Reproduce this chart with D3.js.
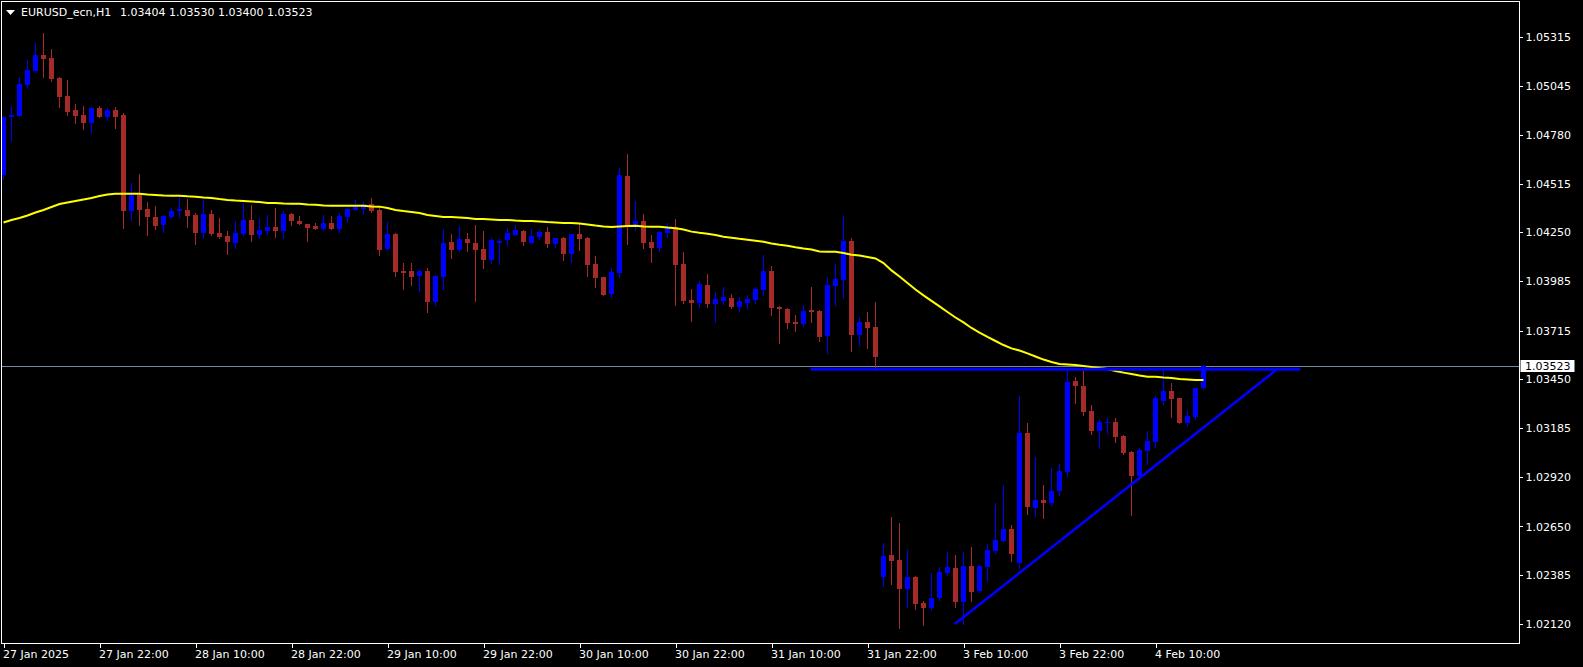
<!DOCTYPE html>
<html>
<head>
<meta charset="utf-8">
<script src="https://cdn.jsdelivr.net/npm/d3@7"></script>
<style>
  html, body { margin: 0; padding: 0; background: #000; }
  svg { display: block; }
  text { font-family: "DejaVu Sans", sans-serif; font-size: 11px; }
</style>
</head>
<body>
<div id="chart"></div>
<script>
const symbolTitle = "EURUSD_ecn,H1";
const titleValues = "1.03404 1.03530 1.03400 1.03523";

const open = [
1.04562,1.04880,1.04885,1.05052,1.05128,1.05213,1.05197,1.05088,1.04992,1.04916,
1.04888,1.04847,1.04927,1.04878,1.04916,1.04888,1.04368,1.04456,1.04377,1.04334,
1.04290,1.04334,1.04364,1.04372,1.04344,1.04247,1.04350,1.04247,1.04230,1.04192,
1.04241,1.04317,1.04236,1.04257,1.04279,1.04257,1.04350,1.04312,1.04295,1.04285,
1.04268,1.04301,1.04268,1.04334,1.04372,1.04377,1.04404,1.04372,1.04160,1.04241,
1.04040,1.04040,1.04014,1.04040,1.03871,1.04007,1.04198,1.04154,1.04214,1.04192,
1.04159,1.04100,1.04192,1.04208,1.04236,1.04257,1.04192,1.04225,1.04252,1.04187,
1.04219,1.04132,1.04241,1.04219,1.04078,1.04007,1.03915,1.04029,1.04557,1.04285,
1.04312,1.04198,1.04165,1.04247,1.04279,1.04078,1.03882,1.03866,1.03964,1.03860,
1.03877,1.03893,1.03844,1.03866,1.03882,1.03936,1.04040,1.03844,1.03833,1.03762,
1.03751,1.03828,1.03822,1.03686,1.03958,1.03991,1.04203,1.03692,1.03762,1.03735,
1.02375,1.02495,1.02468,1.02310,1.02375,1.02234,1.02207,1.02261,1.02397,1.02424,
1.02239,1.02435,1.02299,1.02430,1.02517,1.02571,1.02636,1.02451,1.03159,1.02751,
1.02794,1.02778,1.02843,1.02946,1.03441,1.03414,1.03278,1.03169,1.03216,1.03218,
1.03142,1.03055,1.02925,1.03061,1.03110,1.03333,1.03387,1.03349,1.03213,1.03246,
1.03404];

const high = [
1.04883,1.04937,1.05095,1.05188,1.05282,1.05336,1.05246,1.05097,1.05079,1.04948,
1.04939,1.04932,1.04937,1.04925,1.04934,1.04898,1.04519,1.04567,1.04415,1.04393,
1.04344,1.04382,1.04442,1.04431,1.04355,1.04431,1.04372,1.04328,1.04257,1.04312,
1.04410,1.04399,1.04328,1.04344,1.04382,1.04366,1.04355,1.04339,1.04297,1.04301,
1.04344,1.04339,1.04355,1.04388,1.04426,1.04415,1.04437,1.04382,1.04306,1.04247,
1.04083,1.04083,1.04051,1.04058,1.04018,1.04270,1.04243,1.04285,1.04247,1.04290,
1.04259,1.04219,1.04214,1.04274,1.04290,1.04263,1.04268,1.04263,1.04279,1.04219,
1.04225,1.04241,1.04295,1.04225,1.04121,1.04007,1.04056,1.04600,1.04676,1.04421,
1.04350,1.04236,1.04257,1.04301,1.04323,1.04143,1.03942,1.03985,1.04023,1.03926,
1.03953,1.03915,1.03898,1.03909,1.03953,1.04127,1.04067,1.03849,1.03839,1.03800,
1.03855,1.03953,1.03828,1.04007,1.04078,1.04339,1.04219,1.03790,1.03817,1.03871,
1.02560,1.02702,1.02669,1.02522,1.02380,1.02245,1.02397,1.02430,1.02511,1.02495,
1.02511,1.02538,1.02440,1.02555,1.02778,1.02876,1.02658,1.03360,1.03213,1.03028,
1.02876,1.02968,1.02990,1.03496,1.03463,1.03496,1.03311,1.03229,1.03240,1.03240,
1.03148,1.03058,1.03077,1.03169,1.03360,1.03496,1.03431,1.03349,1.03284,1.03403,
1.03530];

const low = [
1.04540,1.04749,1.04883,1.05041,1.05122,1.05097,1.05073,1.04934,1.04888,1.04847,
1.04814,1.04789,1.04876,1.04860,1.04819,1.04276,1.04317,1.04290,1.04236,1.04268,
1.04252,1.04328,1.04336,1.04279,1.04187,1.04219,1.04236,1.04222,1.04132,1.04165,
1.04236,1.04203,1.04219,1.04241,1.04225,1.04219,1.04290,1.04293,1.04203,1.04266,
1.04263,1.04266,1.04252,1.04306,1.04370,1.04350,1.04361,1.04127,1.04154,1.04014,
1.03944,1.03965,1.03933,1.03818,1.03855,1.03940,1.04111,1.04150,1.04149,1.03877,
1.04056,1.04083,1.04078,1.04181,1.04236,1.04181,1.04192,1.04214,1.04170,1.04170,
1.04100,1.04089,1.04154,1.04013,1.03953,1.03909,1.03898,1.04007,1.04187,1.04263,
1.04165,1.04089,1.04149,1.04225,1.03855,1.03866,1.03768,1.03844,1.03844,1.03762,
1.03860,1.03840,1.03822,1.03839,1.03866,1.03909,1.03800,1.03648,1.03730,1.03713,
1.03741,1.03762,1.03659,1.03594,1.03855,1.03893,1.03605,1.03637,1.03621,1.03501,
1.02326,1.02337,1.02098,1.02212,1.02201,1.02114,1.02196,1.02250,1.02386,1.02212,
1.02119,1.02245,1.02294,1.02353,1.02506,1.02571,1.02462,1.02424,1.02718,1.02707,
1.02696,1.02767,1.02821,1.02925,1.03322,1.03256,1.03153,1.03077,1.03159,1.03110,
1.03045,1.02712,1.02920,1.02990,1.03082,1.03316,1.03246,1.03213,1.03197,1.03235,
1.03400];

const close = [
1.04879,1.04886,1.05057,1.05133,1.05213,1.05195,1.05084,1.04988,1.04906,1.04885,
1.04847,1.04927,1.04879,1.04916,1.04879,1.04368,1.04453,1.04372,1.04334,1.04285,
1.04339,1.04366,1.04377,1.04339,1.04247,1.04350,1.04241,1.04225,1.04198,1.04247,
1.04317,1.04236,1.04263,1.04279,1.04257,1.04350,1.04312,1.04295,1.04274,1.04268,
1.04301,1.04268,1.04339,1.04377,1.04388,1.04404,1.04366,1.04154,1.04241,1.04036,
1.04031,1.04009,1.04040,1.03871,1.04014,1.04192,1.04154,1.04214,1.04192,1.04154,
1.04100,1.04208,1.04203,1.04247,1.04263,1.04198,1.04230,1.04252,1.04187,1.04219,
1.04132,1.04241,1.04214,1.04072,1.04002,1.03909,1.04034,1.04562,1.04279,1.04312,
1.04192,1.04165,1.04252,1.04274,1.04072,1.03877,1.03866,1.03969,1.03860,1.03887,
1.03898,1.03844,1.03877,1.03887,1.03942,1.04040,1.03839,1.03833,1.03757,1.03751,
1.03822,1.03817,1.03681,1.03964,1.03996,1.04203,1.03692,1.03762,1.03730,1.03572,
1.02489,1.02462,1.02310,1.02375,1.02228,1.02207,1.02261,1.02402,1.02430,1.02239,
1.02435,1.02294,1.02435,1.02522,1.02576,1.02636,1.02500,1.03159,1.02756,1.02794,
1.02778,1.02843,1.02952,1.03436,1.03414,1.03273,1.03169,1.03218,1.03220,1.03137,
1.03050,1.02925,1.03066,1.03115,1.03349,1.03387,1.03343,1.03213,1.03251,1.03403,
1.03523];

const movingAverage = [
1.04304,1.04317,1.04328,1.04342,1.04358,1.04372,1.04388,1.04404,1.04412,1.04421,
1.04429,1.04437,1.04448,1.04456,1.04460,1.04460,1.04460,1.04460,1.04456,1.04453,
1.04450,1.04449,1.04449,1.04446,1.04444,1.04440,1.04437,1.04431,1.04426,1.04423,
1.04421,1.04418,1.04415,1.04410,1.04410,1.04407,1.04406,1.04406,1.04402,1.04400,
1.04396,1.04395,1.04395,1.04395,1.04395,1.04395,1.04391,1.04390,1.04382,1.04372,
1.04366,1.04361,1.04355,1.04344,1.04339,1.04334,1.04334,1.04331,1.04328,1.04323,
1.04323,1.04320,1.04317,1.04317,1.04314,1.04312,1.04312,1.04309,1.04306,1.04304,
1.04301,1.04301,1.04298,1.04293,1.04287,1.04282,1.04279,1.04282,1.04285,1.04286,
1.04282,1.04281,1.04281,1.04276,1.04272,1.04266,1.04254,1.04248,1.04243,1.04236,
1.04226,1.04221,1.04215,1.04210,1.04205,1.04199,1.04190,1.04183,1.04177,1.04169,
1.04162,1.04157,1.04146,1.04145,1.04145,1.04138,1.04128,1.04124,1.04116,1.04108,
1.04083,1.04043,1.04010,1.03975,1.03939,1.03907,1.03877,1.03847,1.03817,1.03787,
1.03760,1.03730,1.03705,1.03681,1.03659,1.03637,1.03619,1.03607,1.03592,1.03575,
1.03558,1.03545,1.03534,1.03531,1.03528,1.03523,1.03518,1.03512,1.03507,1.03496,
1.03487,1.03479,1.03471,1.03465,1.03465,1.03460,1.03458,1.03452,1.03450,1.03447,
1.03447];

const priceTicks = [1.05315,1.05045,1.04780,1.04515,1.04250,1.03985,1.03715,1.03450,1.03185,1.02920,1.02650,1.02385,1.02120];
const timeTickBars = [0,12,24,36,48,60,72,84,96,108,120,132,144];
const timeTickLabels = ["27 Jan 2025","27 Jan 22:00","28 Jan 10:00","28 Jan 22:00","29 Jan 10:00","29 Jan 22:00","30 Jan 10:00","30 Jan 22:00","31 Jan 10:00","31 Jan 22:00","3 Feb 10:00","3 Feb 22:00","4 Feb 10:00"];

const currentPrice = 1.03523;
const levelLine = { from: 100.9, to: 162.1, price: 1.03506 };
const trendLine = [ { bar: 118.9, price: 1.02119 }, { bar: 159.0, price: 1.03498 } ];

const W = 1583, H = 667;
const plot = { left: 2, top: 2, right: 1519, bottom: 643 };
const bullColor = "#0000FF", bearColor = "#A52A2A";

const x = d3.scaleLinear().domain([0, 150]).range([3.5, 1203.5]);
const y = d3.scaleLinear().domain([1.02120, 1.05315]).range([623.9, 36.6]);

const svg = d3.select("#chart").append("svg").attr("width", W).attr("height", H)
  .style("background", "#000");
svg.append("rect").attr("width", W).attr("height", H).attr("fill", "#000");

svg.append("defs").append("clipPath").attr("id", "plotClip")
  .append("rect").attr("x", plot.left).attr("y", plot.top)
  .attr("width", plot.right - plot.left).attr("height", plot.bottom - plot.top);

const g = svg.append("g").attr("clip-path", "url(#plotClip)");

// current price line
g.append("line")
  .attr("x1", plot.left).attr("x2", plot.right)
  .attr("y1", Math.round(y(currentPrice)) + 0.5).attr("y2", Math.round(y(currentPrice)) + 0.5)
  .attr("stroke", "#778899").attr("stroke-width", 1);

const bars = d3.range(open.length);
const candle = g.append("g").attr("shape-rendering", "crispEdges");
candle.selectAll("line.wick").data(bars).join("line").attr("class", "wick")
  .attr("x1", i => x(i)).attr("x2", i => x(i))
  .attr("y1", i => y(high[i])).attr("y2", i => y(low[i]) + 1)
  .attr("stroke", i => close[i] >= open[i] ? bullColor : bearColor)
  .attr("stroke-width", 1);
candle.selectAll("rect.body").data(bars).join("rect").attr("class", "body")
  .attr("x", i => x(i) - 2.5).attr("width", 5)
  .attr("y", i => y(Math.max(open[i], close[i])))
  .attr("height", i => Math.max(1, Math.abs(y(open[i]) - y(close[i]))))
  .attr("fill", i => close[i] >= open[i] ? bullColor : bearColor);

// moving average
g.append("path").datum(movingAverage)
  .attr("d", d3.line().x((d, i) => x(i)).y(d => y(d)))
  .attr("fill", "none").attr("stroke", "#FFFF00").attr("stroke-width", 2);

// drawn lines
g.append("line")
  .attr("x1", x(levelLine.from)).attr("x2", x(levelLine.to))
  .attr("y1", y(levelLine.price)).attr("y2", y(levelLine.price))
  .attr("stroke", "#0000FF").attr("stroke-width", 3);
g.append("line")
  .attr("x1", x(trendLine[0].bar)).attr("y1", y(trendLine[0].price))
  .attr("x2", x(trendLine[1].bar)).attr("y2", y(trendLine[1].price))
  .attr("stroke", "#0000FF").attr("stroke-width", 2.6);

// frame
svg.append("rect")
  .attr("x", plot.left - 0.5).attr("y", plot.top - 0.5)
  .attr("width", plot.right - plot.left + 1).attr("height", plot.bottom - plot.top + 1)
  .attr("fill", "none").attr("stroke", "#FFFFFF").attr("stroke-width", 1)
  .attr("shape-rendering", "crispEdges");

// price axis
const yAxis = svg.append("g").attr("transform", `translate(${plot.right + 0.5},0)`)
  .call(d3.axisRight(y).tickValues(priceTicks).tickFormat(d3.format(".5f")).tickSize(3).tickPadding(3));
yAxis.select(".domain").remove();
yAxis.selectAll("line").attr("stroke", "#FFFFFF").attr("shape-rendering", "crispEdges");
yAxis.selectAll("text").attr("fill", "#FFFFFF").style("font-family", "DejaVu Sans").style("font-size", "11px");

// time axis
const xAxis = svg.append("g").attr("transform", `translate(0,${plot.bottom + 0.5})`)
  .call(d3.axisBottom(x).tickValues(timeTickBars).tickFormat((d, i) => timeTickLabels[i]).tickSize(4).tickPadding(3));
xAxis.select(".domain").remove();
xAxis.selectAll("line").attr("stroke", "#FFFFFF").attr("shape-rendering", "crispEdges");
xAxis.selectAll("text").attr("fill", "#FFFFFF").attr("text-anchor", "start").attr("dx", "-1")
  .style("font-family", "DejaVu Sans").style("font-size", "11px");

// current price label
const cpY = y(currentPrice);
svg.append("rect").attr("x", plot.right + 1.5).attr("y", cpY - 6).attr("width", 54).attr("height", 12)
  .attr("fill", "#FFFFFF");
svg.append("text").attr("x", plot.right + 6).attr("y", cpY).attr("dy", "0.35em")
  .attr("fill", "#000000").text(d3.format(".5f")(currentPrice));

// title
svg.append("path").attr("d", "M6,10 L15,10 L10.5,15 Z").attr("fill", "#FFFFFF");
svg.append("text").attr("x", 21).attr("y", 16).attr("fill", "#FFFFFF").text(symbolTitle);
svg.append("text").attr("x", 120).attr("y", 16).attr("fill", "#FFFFFF").text(titleValues);
</script>
</body>
</html>
